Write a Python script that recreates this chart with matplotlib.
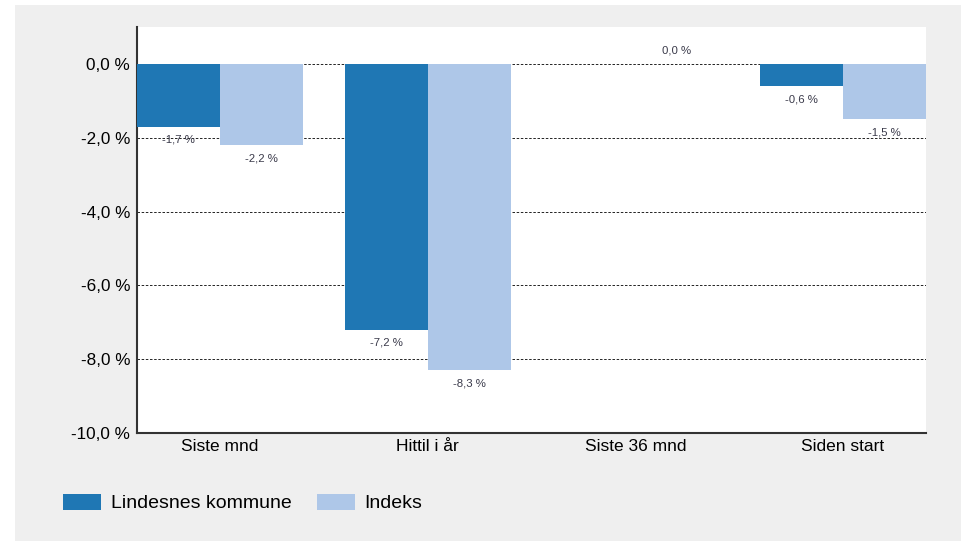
import matplotlib
matplotlib.use('Agg')
import matplotlib.pyplot as plt
from matplotlib.patches import Rectangle, Patch
import numpy as np

categories = ["Siste mnd", "Hittil i år", "Siste 36 mnd", "Siden start"]
kommune = [-1.7, -7.2, None, -0.6]
indeks = [-2.2, -8.3, 0.0, -1.5]
series_names = ["Lindesnes kommune", "Indeks"]
yticks = [0, -2, -4, -6, -8, -10]

dark = "#1f77b4"
light = "#aec7e8"
bg = "#efefef"

plt.rcParams['font.family'] = ['Liberation Sans', 'DejaVu Sans']

W, H = 962, 541
fig = plt.figure(figsize=(W / 100, H / 100), dpi=100, facecolor="white")
fig.patches.append(Rectangle((15 / W, 0), 1 - 15 / W, (H - 5) / H,
                             transform=fig.transFigure, facecolor=bg,
                             edgecolor="none", zorder=-10))

ax = fig.add_axes([137 / W, (H - 433) / H, 789 / W, (433 - 27) / H])
ax.set_facecolor("white")

x = np.arange(len(categories))
w = 0.4


def fmt(v):
    return ("%.1f %%" % v).replace(".", ",")


def draw(vals, offset, color):
    for xi, v in zip(x, vals):
        if v is None:
            continue
        ax.bar(xi + offset, v, width=w, color=color, zorder=3)
        off = -13 if v < 0 else 13
        ax.annotate(fmt(v), (xi + offset, v), xytext=(0, off),
                    textcoords="offset pixels", ha="center", va="center",
                    fontsize=8.2, color="#3a3a4a", zorder=4)


draw(kommune, -w / 2, dark)
draw(indeks, w / 2, light)

ax.set_xlim(-0.4, 3.4)
ax.set_ylim(-10, 1)
ax.set_yticks(yticks)
ax.set_yticklabels([fmt(t) for t in yticks], fontsize=12.3)
ax.set_xticks(x)
ax.set_xticklabels(categories, fontsize=12.5)
ax.tick_params(axis="x", length=0, pad=4.5)
ax.tick_params(axis="y", length=0, pad=5)
for yv in yticks[:-1]:
    ax.axhline(yv, color="black", lw=0.6, ls=(0, (3, 2)), zorder=1)

for s in ["top", "right"]:
    ax.spines[s].set_visible(False)
for s in ["left", "bottom"]:
    ax.spines[s].set_color("#333333")
    ax.spines[s].set_linewidth(1.5)

handles = [Patch(facecolor=dark), Patch(facecolor=light)]
fig.legend(handles, series_names, loc="center left",
           bbox_to_anchor=(63 / W, (H - 503) / H), ncol=2, frameon=False,
           fontsize=14, handlelength=1.95, handleheight=0.92,
           handletextpad=0.5, columnspacing=1.3, borderpad=0,
           borderaxespad=0)

fig.savefig("out.png", dpi=100, facecolor="white")
